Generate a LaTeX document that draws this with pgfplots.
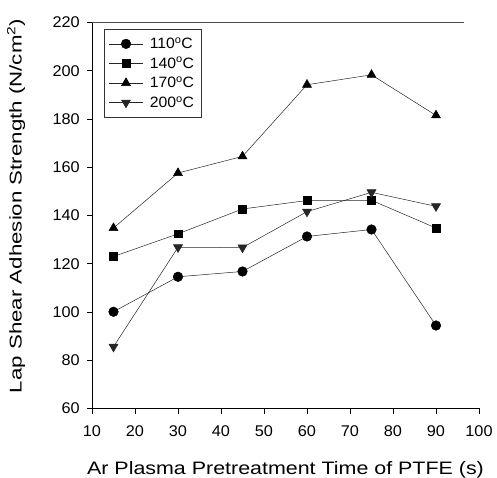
\documentclass[border=0pt]{standalone}
\usepackage{pgfplots}
\pgfplotsset{compat=1.18}
\usepackage{fontspec}
\setmainfont{Liberation Sans}
\newfontfamily\xlabfont[FakeStretch=1.19]{Liberation Sans}
\newfontfamily\ylabfont[FakeStretch=1.31]{Liberation Sans}
\newfontfamily\tickfont[FakeStretch=1.05]{Liberation Sans}
\begin{document}
\begin{tikzpicture}
\path[use as bounding box] (-92pt,-69.5pt) rectangle (405pt,408.5pt);
\begin{axis}[
  at={(0,0)}, anchor=south west,
  width=387pt, height=386pt, scale only axis,
  xmin=10, xmax=100, ymin=60, ymax=220,
  xtick={10,20,...,100}, ytick={60,80,...,220},
  axis x line*=bottom, axis y line*=left,
  tick align=outside, major tick length=5pt,
  tick style={black, line width=0.5pt},
  axis line style={black, line width=0.6pt},
  /pgf/number format/assume math mode=true,
  ticklabel style={font=\tickfont\fontsize{15.5}{18}\selectfont},
  yticklabel style={inner sep=0pt, anchor=east, xshift=-7pt},
  xticklabel style={inner sep=0pt, anchor=north, yshift=-12pt},
  xlabel={Ar Plasma Pretreatment Time of PTFE (s)},
  ylabel={Lap Shear Adhesion Strength (N/cm\textsuperscript{2})},
  xlabel style={font=\xlabfont\fontsize{18}{21}\selectfont, at={(axis description cs:0.5,-0.172)}, anchor=base},
  ylabel style={font=\ylabfont\fontsize{17}{20}\selectfont, at={(axis description cs:-0.182,0.525)}, anchor=base},
  legend style={at={(axis description cs:0.031,0.982)}, anchor=north west,
    draw=black!80, line width=0.5pt, font=\tickfont\fontsize{15}{18}\selectfont,
    row sep=3.2pt, inner xsep=5pt, inner ysep=6pt, cells={anchor=west},
    /tikz/every odd column/.append style={column sep=5pt}},
  legend image code/.code={\draw[mark repeat=2,mark phase=2] plot coordinates {(0cm,0cm) (0.58cm,0cm) (1.16cm,0cm)};},
  every axis plot/.append style={black!85, line width=0.5pt, mark options={solid, fill=black, draw=black}},
  clip=false,
]
\addplot[mark=*, mark size=4.8pt] coordinates {(15,100.1) (30,114.6) (45,116.8) (60,131.3) (75,134.2) (90,94.4)};
\addlegendentry{110\textsuperscript{o}C}
\addplot[mark=square*, mark size=3.9pt] coordinates {(15,123.0) (30,132.4) (45,142.7) (60,146.2) (75,146.3) (90,134.8)};
\addlegendentry{140\textsuperscript{o}C}
\addplot[mark=triangle*, mark size=5.2pt] coordinates {(15,134.8) (30,157.6) (45,164.5) (60,194.2) (75,198.3) (90,181.5)};
\addlegendentry{170\textsuperscript{o}C}
\addplot[mark=triangle*, mark size=5.2pt, mark options={rotate=180}] coordinates {(15,85.6) (30,126.8) (45,126.7) (60,141.6) (75,149.6) (90,143.8)};
\addlegendentry{200\textsuperscript{o}C}
\draw[black!70, line width=0.5pt] (rel axis cs:0,1) -- (rel axis cs:0.96,1);
\end{axis}
\end{tikzpicture}
\end{document}
